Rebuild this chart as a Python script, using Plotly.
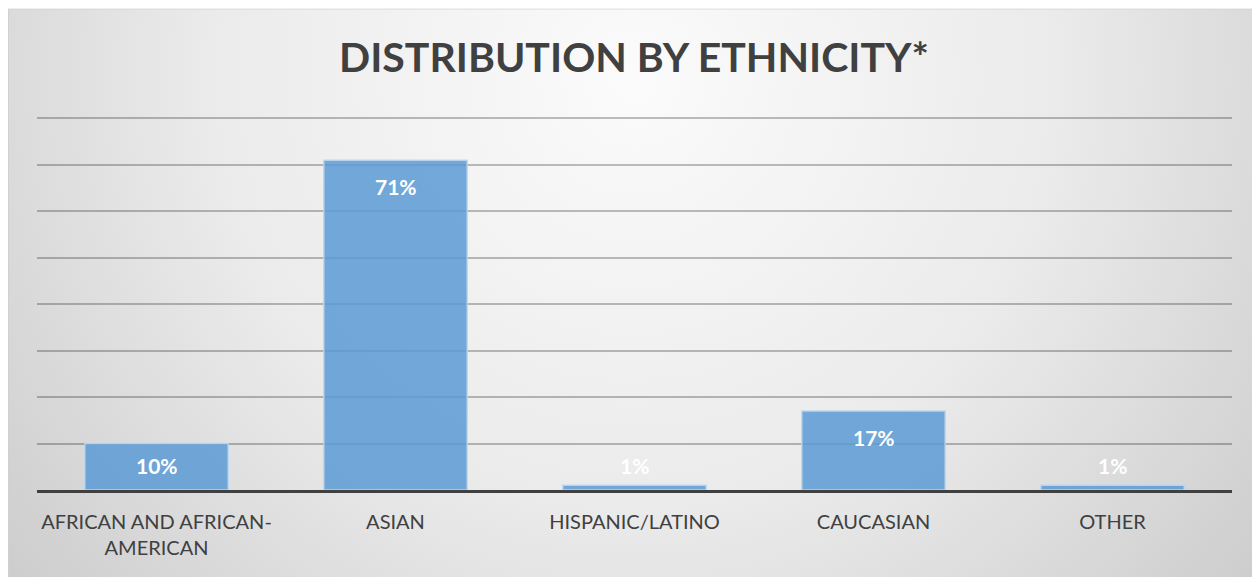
import base64
import plotly.graph_objects as go

categories = ["AFRICAN AND AFRICAN-<br>AMERICAN", "ASIAN", "HISPANIC/LATINO", "CAUCASIAN", "OTHER"]
values = [10, 71, 1, 17, 1]
labels = ["10%", "71%", "1%", "17%", "1%"]
y_ticks = [0, 10, 20, 30, 40, 50, 60, 70, 80]

# page body has an 8px margin, so the figure is sized to fit the window
W, H = 1252, 569
L, R, T, B = 29, 28, 107.7, 87
plot_w = W - L - R
plot_h = H - T - B

svg = '''<svg xmlns="http://www.w3.org/2000/svg" width="1252" height="571" viewBox="0 0 1252 571" preserveAspectRatio="none">
<defs><radialGradient id="g" cx="0.5" cy="0.12" r="0.75" gradientUnits="objectBoundingBox" gradientTransform="translate(0.5,0.12) scale(1,2.2) translate(-0.5,-0.12)">
<stop offset="0" stop-color="#fbfbfb"/><stop offset="0.45" stop-color="#ebebeb"/><stop offset="1" stop-color="#c2c2c2"/></radialGradient></defs>
<rect x="0.5" y="0.5" width="1251" height="575" fill="url(#g)" stroke="#d0d0d0" stroke-width="1"/></svg>'''
svg_uri = "data:image/svg+xml;base64," + base64.b64encode(svg.encode()).decode()

fig = go.Figure()
fig.add_trace(go.Bar(
    x=categories, y=values,
    marker=dict(color="rgba(91,155,213,0.85)", line=dict(color="rgba(189,215,238,0.9)", width=1.5)),
    width=0.6, hoverinfo="skip",
))

px_per_unit = plot_h / 80.5
for c, v, t in zip(categories, values, labels):
    ylab = max(v - 26 / px_per_unit, 25 / px_per_unit)
    fig.add_annotation(x=c, y=ylab, text=f"<b>{t}</b>", showarrow=False,
                       font=dict(family="Lato", size=21, color="white"), yanchor="middle")

fig.add_layout_image(dict(
    source=svg_uri, xref="paper", yref="paper",
    x=(0 - L) / plot_w, y=(H - B - 0) / plot_h,
    sizex=1250 / plot_w, sizey=H / plot_h,
    xanchor="left", yanchor="top", sizing="stretch", layer="below",
))

fig.update_layout(
    width=W, height=H,
    margin=dict(l=L, r=R, t=T, b=B, pad=0),
    paper_bgcolor="white", plot_bgcolor="rgba(0,0,0,0)",
    showlegend=False,
    title=dict(text="<b>DISTRIBUTION BY ETHNICITY*</b>", x=(626 - L) / plot_w, xanchor="center",
               xref="paper", y=1 - 50 / H, yanchor="middle",
               font=dict(family="Lato", size=41, color="#404040")),
    xaxis=dict(showline=True, linecolor="#404040", linewidth=3, ticks="", showgrid=False,
               tickfont=dict(family="Lato", size=20, color="#404040"), ticklabelstandoff=12,
               fixedrange=True),
    yaxis=dict(range=[0, 80.5], tickvals=y_ticks, showticklabels=False, showgrid=True,
               gridcolor="rgba(0,0,0,0.25)", gridwidth=1.5, zeroline=False, fixedrange=True),
)

fig.write_html("out.html")
